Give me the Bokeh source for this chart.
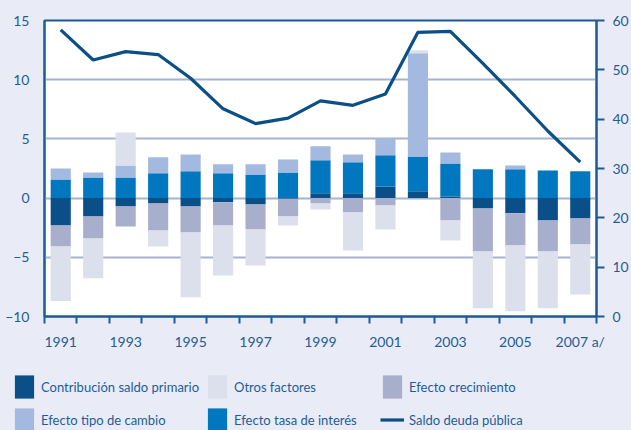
from bokeh.plotting import figure
from bokeh.layouts import column
from bokeh.models import Range1d, LinearAxis, FixedTicker, Legend, LegendItem, ColumnDataSource
from bokeh.embed import file_html
from bokeh.resources import INLINE

years = list(range(1991, 2008))
primario = [-2.31, -1.55, -0.70, -0.45, -0.70, -0.36, -0.53, -0.05, 0.40, 0.40, 0.99, 0.57, 0.14, -0.87, -1.29, -1.89, -1.72]
crecimiento = [-1.77, -1.86, -1.69, -2.28, -2.20, -1.95, -2.12, -1.50, -0.45, -1.21, -0.62, -0.05, -1.89, -3.64, -2.71, -2.62, -2.19]
otros = [-4.62, -3.35, 2.79, -1.35, -5.47, -4.22, -3.04, -0.76, -0.51, -3.21, -2.03, 0.25, -1.69, -4.79, -5.55, -4.79, -4.23]
interes = [1.58, 1.75, 1.75, 2.09, 2.26, 2.09, 2.00, 2.17, 2.79, 2.62, 2.62, 2.95, 2.79, 2.43, 2.43, 2.34, 2.26]
tipo_cambio = [0.93, 0.42, 1.01, 1.35, 1.43, 0.76, 0.85, 1.10, 1.18, 0.67, 1.44, 8.71, 0.93, 0.00, 0.33, 0.00, 0.00]
deuda = [58.1, 52.0, 53.7, 53.1, 48.3, 42.1, 39.1, 40.2, 43.7, 42.8, 45.1, 57.6, 57.8, 51.3, 44.6, 37.6, 31.3]
label_years = [1991, 1993, 1995, 1997, 1999, 2001, 2003, 2005, 2007]
label_texts = ["1991", "1993", "1995", "1997", "1999", "2001", "2003", "2005", "2007 a/"]
left_ticks = [-10, -5, 0, 5, 10, 15]
right_ticks = [0, 10, 20, 30, 40, 50, 60]
legend_labels = ["Contribución saldo primario", "Otros factores", "Efecto crecimiento",
                 "Efecto tipo de cambio", "Efecto tasa de interés", "Saldo deuda pública"]

BG = "#E9ECF6"
C_PRIM = "#0A4F88"
C_OTROS = "#DCDFEC"
C_CREC = "#A7AFCD"
C_TIPO = "#A3B9DF"
C_INT = "#0077BF"
C_LINE = "#0B4F87"
AXIS = "#1D5A96"
TXT = "#1F5C98"
GRID = "#A8B2CE"
FONT = "Lato"

pos_src = ColumnDataSource(dict(
    x=years,
    prim=[max(v, 0) for v in primario],
    inte=[max(v, 0) for v in interes],
    tipo=[max(v, 0) for v in tipo_cambio],
    otros=[max(v, 0) for v in otros],
))
neg_src = ColumnDataSource(dict(
    x=years,
    prim=[min(v, 0) for v in primario],
    crec=[min(v, 0) for v in crecimiento],
    otros=[min(v, 0) for v in otros],
))

p = figure(width=631, height=360, output_backend="svg", toolbar_location=None,
           x_range=Range1d(1990.5, 2007.5), y_range=Range1d(-10, 15),
           min_border_left=44, min_border_right=34, min_border_top=20, min_border_bottom=44,
           background_fill_color="white", border_fill_color=BG,
           outline_line_color=AXIS, outline_line_width=2)
p.frame_align = False
p.styles = {"background-color": BG}
p.extra_y_ranges = {"right": Range1d(0, 60)}

pos_r = p.vbar_stack(["prim", "inte", "tipo", "otros"], x="x", width=0.62, source=pos_src,
                     fill_color=[C_PRIM, C_INT, C_TIPO, C_OTROS], line_color=None)
neg_r = p.vbar_stack(["prim", "crec", "otros"], x="x", width=0.62, source=neg_src,
                     fill_color=[C_PRIM, C_CREC, C_OTROS], line_color=None)
line_r = p.line(years, deuda, y_range_name="right", line_color=C_LINE, line_width=3.2)

p.xaxis.ticker = FixedTicker(ticks=label_years, minor_ticks=[y - 0.5 for y in years] + [2007.5])
p.xaxis.major_label_overrides = {y: t for y, t in zip(label_years, label_texts)}
p.xaxis.major_tick_out = 0
p.xaxis.major_tick_in = 0
p.xaxis.minor_tick_out = 7
p.xaxis.minor_tick_in = 0
p.xaxis.minor_tick_line_color = AXIS
p.xaxis.minor_tick_line_width = 2
p.xaxis.major_label_standoff = 9

p.yaxis.ticker = FixedTicker(ticks=left_ticks)
p.yaxis.major_tick_out = 0
p.yaxis.major_tick_in = 0
p.yaxis.minor_tick_line_color = None
p.yaxis.major_label_standoff = 15

ra = LinearAxis(y_range_name="right", ticker=FixedTicker(ticks=right_ticks))
ra.major_tick_out = 8
ra.major_tick_in = 0
ra.minor_tick_line_color = None
ra.major_label_standoff = 8
p.add_layout(ra, "right")

for ax in [p.xaxis[0], p.yaxis[0], ra]:
    ax.axis_line_color = AXIS
    ax.axis_line_width = 2
    ax.major_tick_line_color = AXIS
    ax.major_tick_line_width = 2
    ax.major_label_text_color = TXT
    ax.major_label_text_font = FONT
    ax.major_label_text_font_size = "14px"

p.xgrid.grid_line_color = None
p.ygrid.ticker = FixedTicker(ticks=[-5, 0, 5, 10])
p.ygrid.grid_line_color = GRID
p.ygrid.grid_line_width = 2

# legend panel (separate figure below the chart)
lf = figure(width=631, height=70, output_backend="svg", toolbar_location=None,
            x_range=Range1d(0, 1), y_range=Range1d(0, 1),
            x_axis_location=None, y_axis_location=None,
            min_border=0, min_border_left=0, min_border_right=0, min_border_top=0, min_border_bottom=0,
            background_fill_color=BG, border_fill_color=BG, outline_line_color=None)
lf.frame_align = False
lf.styles = {"background-color": BG}
lf.xgrid.grid_line_color = None
lf.ygrid.grid_line_color = None

def swatch(color):
    return lf.vbar(x=[0.5], top=[0.5], width=0.1, fill_color=color, line_color=None, visible=False)

r_prim = swatch(C_PRIM)
r_otros = swatch(C_OTROS)
r_crec = swatch(C_CREC)
r_tipo = swatch(C_TIPO)
r_int = swatch(C_INT)
r_line = lf.line(x=[0.4, 0.6], y=[0.5, 0.5], line_color=C_LINE, line_width=3.2, visible=False)

def make_legend(items, x):
    lg = Legend(items=items, location=(x, -4), orientation="vertical",
                glyph_width=24, glyph_height=29, spacing=4, label_standoff=5,
                padding=0, margin=0, border_line_alpha=0, background_fill_alpha=0,
                label_text_font=FONT, label_text_font_size="13px", label_text_color=TXT)
    lf.add_layout(lg, "center")

make_legend([LegendItem(label=legend_labels[0], renderers=[r_prim]),
             LegendItem(label=legend_labels[3], renderers=[r_tipo])], 12)
make_legend([LegendItem(label=legend_labels[1], renderers=[r_otros]),
             LegendItem(label=legend_labels[4], renderers=[r_int])], 205)
make_legend([LegendItem(label=legend_labels[2], renderers=[r_crec]),
             LegendItem(label=legend_labels[5], renderers=[r_line])], 380)

layout = column(p, lf, spacing=0, styles={"background-color": BG})
open("out.html", "w").write(file_html(layout, INLINE))
